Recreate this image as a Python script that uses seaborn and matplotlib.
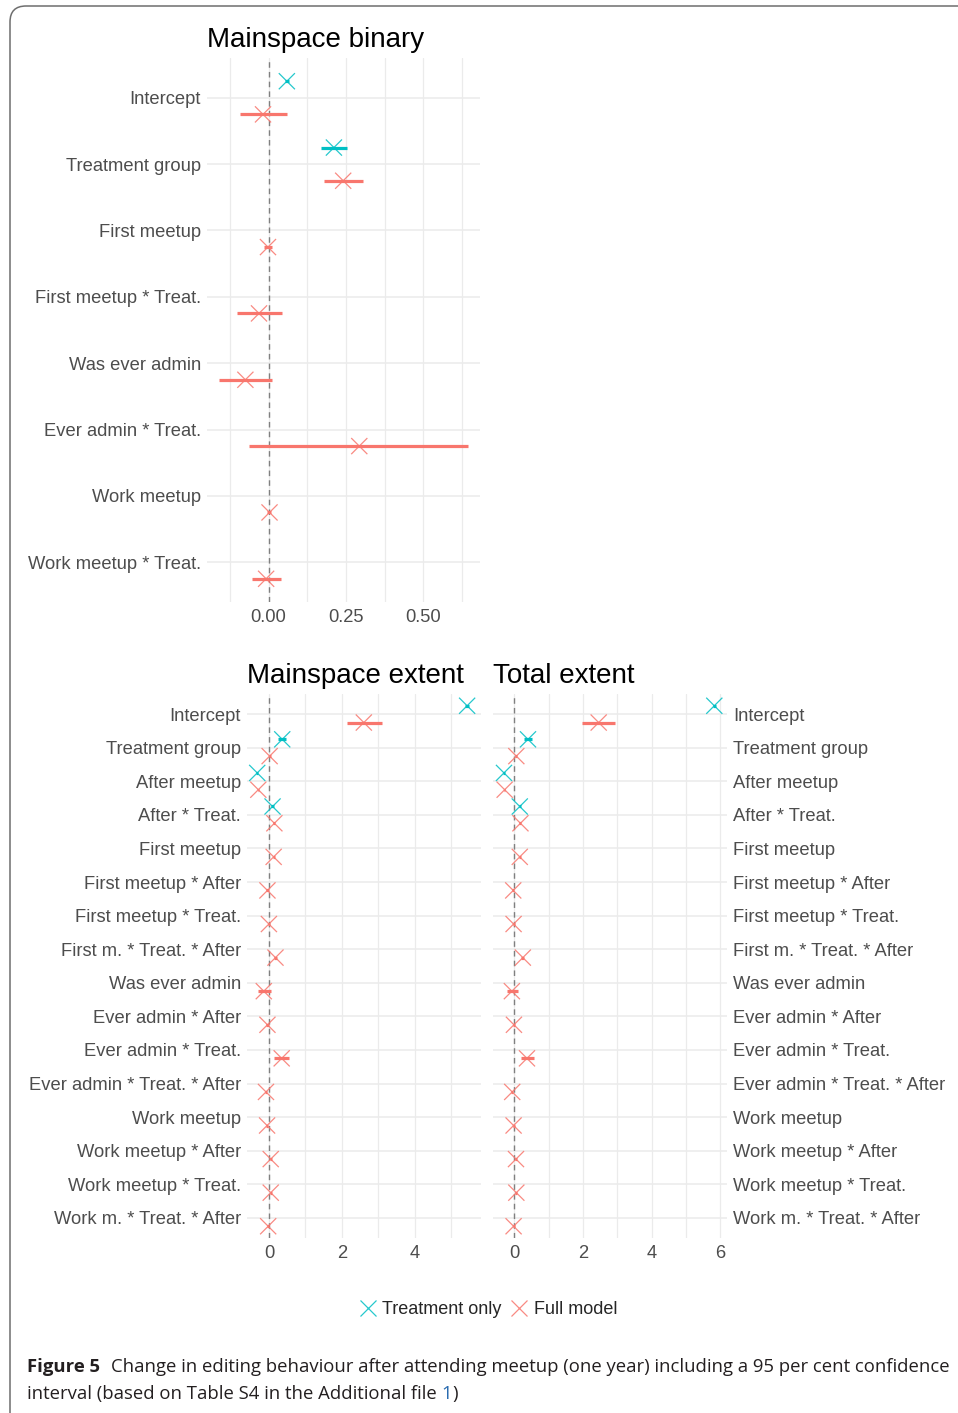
import numpy as np
import pandas as pd
import matplotlib
matplotlib.use("Agg")
import matplotlib.pyplot as plt
from matplotlib.lines import Line2D
from matplotlib.patches import FancyBboxPatch
import seaborn as sns

nan = np.nan

# ---- Mainspace binary (logistic) coefficients ----
binary_terms = ["Intercept", "Treatment group", "First meetup", "First meetup * Treat.",
                "Was ever admin", "Ever admin * Treat.", "Work meetup", "Work meetup * Treat."]
binary_treat_est = [0.059, 0.211, nan, nan, nan, nan, nan, nan]
binary_treat_lo = [0.053, 0.169, nan, nan, nan, nan, nan, nan]
binary_treat_hi = [0.066, 0.253, nan, nan, nan, nan, nan, nan]
binary_full_est = [-0.018, 0.241, -0.002, -0.031, -0.075, 0.293, 0.003, -0.008]
binary_full_lo = [-0.094, 0.180, -0.016, -0.102, -0.161, -0.062, -0.005, -0.054]
binary_full_hi = [0.059, 0.306, 0.012, 0.043, 0.012, 0.645, 0.009, 0.039]

# ---- Extent models: shared term list ----
extent_terms = ["Intercept", "Treatment group", "After meetup", "After * Treat.",
                "First meetup", "First meetup * After", "First meetup * Treat.",
                "First m. * Treat. * After", "Was ever admin", "Ever admin * After",
                "Ever admin * Treat.", "Ever admin * Treat. * After", "Work meetup",
                "Work meetup * After", "Work meetup * Treat.", "Work m. * Treat. * After"]
pad12 = [nan] * 12

main_treat_est = [5.43, 0.365, -0.32, 0.10] + pad12
main_treat_lo = [5.38, 0.26, -0.35, 0.07] + pad12
main_treat_hi = [5.48, 0.48, -0.29, 0.13] + pad12
main_full_est = [2.60, 0.02, -0.29, 0.15, 0.13, -0.04, 0.00, 0.18,
                 -0.14, -0.04, 0.35, -0.08, -0.05, 0.05, 0.05, -0.02]
main_full_lo = [2.13, -0.01, -0.31, 0.12, 0.10, -0.07, -0.03, 0.14,
                -0.29, -0.07, 0.15, -0.11, -0.08, 0.02, 0.02, -0.05]
main_full_hi = [3.11, 0.05, -0.27, 0.18, 0.16, -0.01, 0.03, 0.22,
                0.05, -0.01, 0.56, -0.05, -0.02, 0.08, 0.08, 0.01]

total_treat_est = [5.83, 0.40, -0.30, 0.16] + pad12
total_treat_lo = [5.78, 0.27, -0.33, 0.13] + pad12
total_treat_hi = [5.88, 0.52, -0.27, 0.19] + pad12
total_full_est = [2.46, 0.06, -0.28, 0.18, 0.16, -0.03, -0.02, 0.25,
                  -0.07, -0.01, 0.37, -0.06, -0.02, 0.05, 0.06, -0.02]
total_full_lo = [1.98, 0.03, -0.30, 0.15, 0.13, -0.06, -0.05, 0.21,
                 -0.22, -0.04, 0.19, -0.09, -0.05, 0.02, 0.03, -0.05]
total_full_hi = [2.94, 0.09, -0.26, 0.21, 0.19, 0.00, 0.01, 0.29,
                 0.11, 0.02, 0.58, -0.03, 0.01, 0.08, 0.09, 0.01]

models = ["Treatment only", "Full model"]
palette = {"Treatment only": "#00BFC4", "Full model": "#F8766D"}

sns.set_theme(style="white")
plt.rcParams["font.family"] = ["Liberation Sans", "DejaVu Sans"]

TICK_COLOR = "#4D4D4D"
GRID_COLOR = "#EBEBEB"


def long_frame(terms, treat, full):
    rows = []
    for model, (est, lo, hi), shift in ((models[0], treat, -0.25), (models[1], full, 0.25)):
        for i, term in enumerate(terms):
            if np.isnan(est[i]):
                continue
            rows.append({"term": term, "model": model, "estimate": est[i],
                         "lo": lo[i], "hi": hi[i], "pos": i + shift})
    return pd.DataFrame(rows)


def draw_panel(ax, df, terms, xlim, major, minor, labels, title, right=False):
    n = len(terms)
    for x in list(major) + list(minor):
        ax.axvline(x, color=GRID_COLOR, lw=0.9, zorder=0)
    for y in range(n):
        ax.axhline(y, color=GRID_COLOR, lw=1.1, zorder=0)
    ax.axvline(0, color="#808080", lw=1.0, ls=(0, (4, 3)), zorder=1)
    ax.hlines(df["pos"], df["lo"], df["hi"],
              colors=[palette[m] for m in df["model"]], lw=2.3, zorder=2)
    sns.scatterplot(data=df, x="estimate", y="pos", hue="model", palette=palette,
                    hue_order=models, marker="x", s=135, linewidth=0.9, alpha=0.85,
                    legend=False, ax=ax, zorder=3)
    ax.set_xlim(*xlim)
    ax.set_ylim(n - 0.4, -0.6)
    ax.set_xticks(major)
    ax.set_xticklabels(labels)
    ax.set_yticks(range(n))
    ax.set_yticklabels(terms)
    ax.set_xlabel("")
    ax.set_ylabel("")
    ax.tick_params(axis="both", length=0, labelsize=13.2, labelcolor=TICK_COLOR)
    ax.tick_params(axis="y", pad=4.3)
    ax.tick_params(axis="x", pad=5)
    if right:
        ax.yaxis.tick_right()
    for s in ax.spines.values():
        s.set_visible(False)
    ax.text(0, 1 + 18 / 544, title, transform=ax.transAxes, ha="left", va="center",
            fontsize=20, color="black")


fig = plt.figure(figsize=(9.58, 14.13), dpi=100)

ax_bin = fig.add_axes([207 / 958, 1 - 602 / 1413, 273 / 958, 544 / 1413])
ax_main = fig.add_axes([247 / 958, 1 - 1238 / 1413, 234 / 958, 544 / 1413])
ax_tot = fig.add_axes([493 / 958, 1 - 1238 / 1413, 234 / 958, 544 / 1413])

draw_panel(ax_bin, long_frame(binary_terms,
                              (binary_treat_est, binary_treat_lo, binary_treat_hi),
                              (binary_full_est, binary_full_lo, binary_full_hi)),
           binary_terms, (-0.199, 0.683), [0, 0.25, 0.5], [-0.125, 0.125, 0.375, 0.625],
           ["0.00", "0.25", "0.50"], "Mainspace binary")

draw_panel(ax_main, long_frame(extent_terms,
                               (main_treat_est, main_treat_lo, main_treat_hi),
                               (main_full_est, main_full_lo, main_full_hi)),
           extent_terms, (-0.60, 5.81), [0, 2, 4], [1, 3, 5],
           ["0", "2", "4"], "Mainspace extent")

draw_panel(ax_tot, long_frame(extent_terms,
                              (total_treat_est, total_treat_lo, total_treat_hi),
                              (total_full_est, total_full_lo, total_full_hi)),
           extent_terms, (-0.62, 6.20), [0, 2, 4, 6], [1, 3, 5],
           ["0", "2", "4", "6"], "Total extent", right=True)

# Legend below the panels
handles = [Line2D([], [], marker="x", ls="none", color=palette[m], markersize=12,
                  markeredgewidth=0.9, alpha=0.85) for m in models]
fig.legend(handles, models, loc="center", bbox_to_anchor=(487 / 958, 1 - 1310 / 1413),
           ncol=2, frameon=False, fontsize=13, handletextpad=0.2, columnspacing=0.4,
           handlelength=1.2)

# Rounded page frame
frame = FancyBboxPatch((0.10, -0.4), 10.0, 14.07 + 0.4,
                       boxstyle="round,pad=0,rounding_size=0.16",
                       transform=fig.dpi_scale_trans, fill=False,
                       edgecolor="#6E6E6E", lw=1.1)
fig.patches.append(frame)

# Caption
cap_font = ["Open Sans", "DejaVu Sans"]
cap_size = 13.3
fig.canvas.draw()
renderer = fig.canvas.get_renderer()


def put(x_px, y_px, s, **kw):
    t = fig.text(x_px / 958, 1 - y_px / 1413, s, ha="left", va="baseline",
                 fontsize=cap_size, family=cap_font, color="#231F20", **kw)
    bb = t.get_window_extent(renderer)
    return bb.x1


put(27, 1372, "Figure 5", fontweight="bold")
put(111, 1372, "Change in editing behaviour after attending meetup (one year) including a 95 per cent confidence")
x = put(27, 1399, "interval (based on Table S4 in the Additional file ")
t = fig.text(x / 958, 1 - 1399 / 1413, "1", ha="left", va="baseline",
             fontsize=cap_size, family=cap_font, color="#2B6CB0")
x2 = t.get_window_extent(renderer).x1
put(x2, 1399, ")")

fig.savefig("out.png", dpi=100)
